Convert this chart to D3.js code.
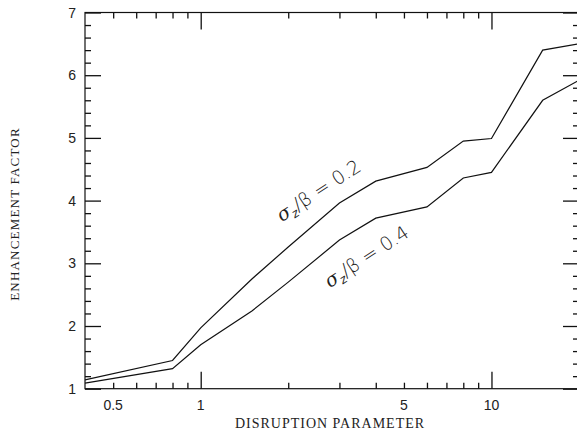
<!DOCTYPE html>
<html>
<head>
<meta charset="utf-8">
<script src="https://cdn.jsdelivr.net/npm/d3@7"></script>
<style>
  body { margin: 0; background: #fff; }
  svg { display: block; }
  .tk path { display: none; }
  .tk line { stroke: #111; stroke-width: 1.3px; }
</style>
</head>
<body>
<div id="chart"></div>
<script>
// data
const xValues = [0.4, 0.8, 1, 1.5, 2, 3, 4, 6, 8, 10, 15, 20];
const sigma02 = [1.14, 1.45, 1.97, 2.75, 3.26, 3.96, 4.31, 4.53, 4.95, 4.99, 6.40, 6.50];
const sigma04 = [1.09, 1.32, 1.70, 2.24, 2.70, 3.37, 3.72, 3.90, 4.36, 4.45, 5.60, 5.92];
const xTickLabels = [0.5, 1, 5, 10];
const yTickLabels = [1, 2, 3, 4, 5, 6, 7];
const xMinor = [0.5, 0.6, 0.7, 0.8, 0.9, 2, 3, 4, 5, 6, 7, 8, 9, 20];
const xMajor = [1, 10];
const yMinor = [1.2, 1.4, 1.6, 1.8, 2.2, 2.4, 2.6, 2.8, 3.2, 3.4, 3.6, 3.8,
                4.2, 4.4, 4.6, 4.8, 5.2, 5.4, 5.6, 5.8, 6.2, 6.4, 6.6, 6.8];

const width = 577, height = 434;
const margin = {top: 12.5, right: -2, bottom: 45.3, left: 85};

const svg = d3.select("#chart").append("svg")
  .attr("width", width)
  .attr("height", height);

const x = d3.scaleLog().domain([0.4, 20]).range([margin.left, width - margin.right]);
const y = d3.scaleLinear().domain([1, 7]).range([height - margin.bottom, margin.top]);

const x0 = x.range()[0], x1 = x.range()[1];
const y0 = y.range()[0], y1 = y.range()[1];

// inward ticks on all four sides
function ticks(axis, values, size, tx, ty) {
  svg.append("g")
    .attr("class", "tk")
    .attr("transform", `translate(${tx},${ty})`)
    .call(axis.tickValues(values).tickSize(size).tickFormat(""));
}
ticks(d3.axisBottom(x), xMinor, -6, 0, y0);
ticks(d3.axisBottom(x), xMajor, -17, 0, y0);
ticks(d3.axisTop(x), xMinor, -6, 0, y1);
ticks(d3.axisTop(x), xMajor, -17, 0, y1);
ticks(d3.axisLeft(y), yMinor, -6, x0, 0);
ticks(d3.axisLeft(y), yTickLabels, -16, x0, 0);
ticks(d3.axisRight(y), yMinor, -6, x1, 0);
ticks(d3.axisRight(y), yTickLabels, -16, x1, 0);

// frame
svg.append("rect")
  .attr("x", x0).attr("y", y1)
  .attr("width", x1 - x0).attr("height", y0 - y1)
  .attr("fill", "none").attr("stroke", "#111").attr("stroke-width", 1.2);

// tick labels
svg.append("g").selectAll("text")
  .data(xTickLabels).join("text")
  .attr("x", d => x(d))
  .attr("y", y0 + 21)
  .attr("text-anchor", "middle")
  .attr("font-family", "Liberation Sans, Arial, sans-serif")
  .attr("font-size", 14)
  .attr("fill", "#222")
  .text(d => d);

svg.append("g").selectAll("text")
  .data(yTickLabels).join("text")
  .attr("x", x0 - 9)
  .attr("y", d => y(d) + 5)
  .attr("text-anchor", "end")
  .attr("font-family", "Liberation Sans, Arial, sans-serif")
  .attr("font-size", 14)
  .attr("fill", "#222")
  .text(d => d);

// axis titles
svg.append("text")
  .attr("x", 330).attr("y", 428)
  .attr("text-anchor", "middle")
  .attr("font-family", "Liberation Serif, Times New Roman, serif")
  .attr("font-size", 14)
  .attr("letter-spacing", 1)
  .attr("fill", "#222")
  .text("DISRUPTION PARAMETER");

svg.append("text")
  .attr("transform", "translate(19,214) rotate(-90)")
  .attr("text-anchor", "middle")
  .attr("font-family", "Liberation Serif, Times New Roman, serif")
  .attr("font-size", 13)
  .attr("letter-spacing", 1.2)
  .attr("fill", "#222")
  .text("ENHANCEMENT FACTOR");

// curves
const line = d3.line()
  .x((d, i) => x(xValues[i]))
  .y(d => y(d));

[sigma02, sigma04].forEach(s => {
  svg.append("path")
    .datum(s)
    .attr("d", line)
    .attr("fill", "none")
    .attr("stroke", "#111")
    .attr("stroke-width", 1.2);
});

// curve labels
function curveLabel(cx, cy, val) {
  const t = svg.append("text")
    .attr("transform", `translate(${cx},${cy}) rotate(-33)`)
    .attr("text-anchor", "middle")
    .attr("font-family", "DejaVu Sans, sans-serif")
    .attr("font-size", 19)
    .attr("font-weight", 200)
    .attr("fill", "#222");
  t.append("tspan").attr("font-style", "italic").attr("font-family", "DejaVu Serif, serif").text("σ");
  t.append("tspan").attr("font-size", 12).attr("dy", 4).attr("font-style", "italic").text("z");
  t.append("tspan").attr("dy", -4).text("/β = " + val);
}
curveLabel(322, 196, "0.2");
curveLabel(370, 262, "0.4");
</script>
</body>
</html>
